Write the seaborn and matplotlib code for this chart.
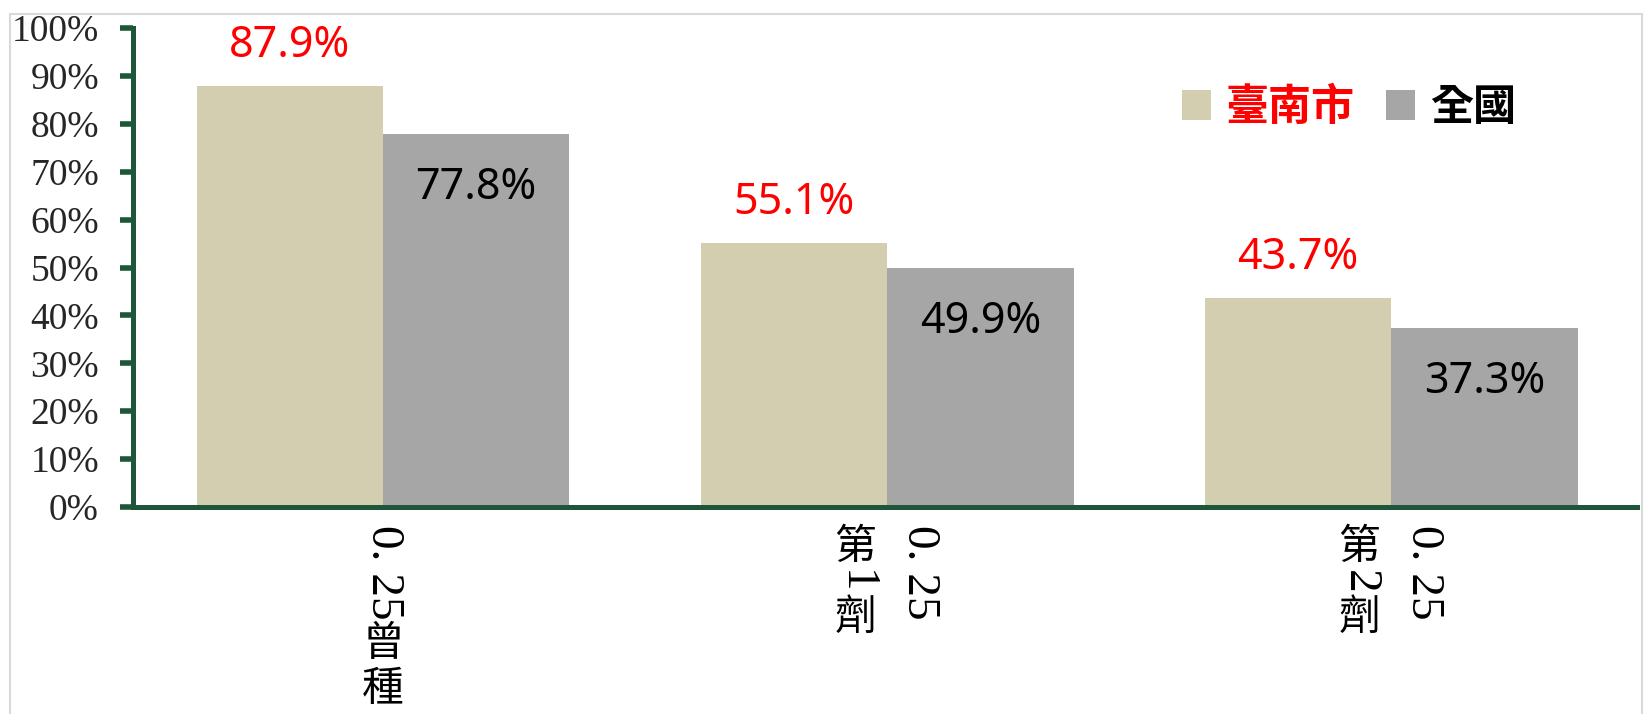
import matplotlib
matplotlib.use('Agg')
import matplotlib.pyplot as plt
import seaborn as sns
import pandas as pd
from matplotlib.patches import Rectangle

# chart data
groups = ['0.25曾種', '0.25第1劑', '0.25第2劑']
# vertical tick text, columns in reading order (right to left)
label_columns = [['0. 25曾種'], ['0. 25', '第1劑'], ['0. 25', '第2劑']]
regions = ['臺南市', '全國']
tainan = [87.9, 55.1, 43.7]
national = [77.8, 49.9, 37.3]
region_colors = ['#D3CEB0', '#A6A6A6']
text_colors = ['red', 'black']
y_ticks = list(range(0, 101, 10))

df = pd.DataFrame({
    'group': groups * 2,
    'region': [regions[0]] * len(groups) + [regions[1]] * len(groups),
    'value': tainan + national,
})

sns.set_theme(style='white')
plt.rcParams['font.family'] = ['Noto Sans', 'Noto Sans CJK TC', 'DejaVu Sans']

DPI = 100
W, H = 1648, 714
green = '#1D5638'

fig = plt.figure(figsize=(W / DPI, H / DPI), dpi=DPI)
ax = fig.add_axes([133 / W, 1 - 507 / H, (1637 - 133) / W, (507 - 28) / H])

sns.barplot(data=df, x='group', y='value', hue='region',
            palette=region_colors, width=0.74, gap=0, saturation=1,
            linewidth=0, ax=ax)

ax.set_xlim(-0.496, 2.488)
ax.set_ylim(0, 100)
ax.set_yticks(y_ticks)
ax.set_yticklabels([f'{t}%' for t in y_ticks],
                   fontfamily='Liberation Serif', fontsize=27)
ax.set_xlabel('')
ax.set_ylabel('')

# axes styling
sns.despine(ax=ax)
for s in ['left', 'bottom']:
    ax.spines[s].set_color(green)
    ax.spines[s].set_linewidth(3.6)
ax.tick_params(axis='y', left=True, direction='out', length=9.5, width=4,
               color=green, pad=15)
ax.tick_params(axis='x', bottom=False, labelbottom=False)

# value labels
for container, color, off in zip(ax.containers, text_colors, [40, -54]):
    for bar in container:
        h = bar.get_height()
        ax.annotate(f'{h:.1f}%', (bar.get_x() + bar.get_width() / 2, h),
                    xytext=(0, off), textcoords='offset pixels',
                    ha='center', va='center', color=color, fontsize=31)


# vertical category labels (latin runs rotated, CJK upright)
def char_runs(s):
    runs = []
    for ch in s:
        is_ascii = ord(ch) < 128
        if runs and runs[-1][1] and is_ascii:
            runs[-1][0] += ch
        else:
            runs.append([ch, is_ascii])
    return runs


renderer = fig.canvas.get_renderer()
em = 45
col_gap = 64
for i, cols in enumerate(label_columns):
    n = len(cols)
    for k, col in enumerate(cols):
        dx = ((n - 1) / 2 - k) * col_gap
        y = -18
        for run, is_ascii in char_runs(col):
            if is_ascii:
                t = ax.annotate(run, (i, 0), xycoords=('data', 'axes fraction'),
                                xytext=(dx, y), textcoords='offset pixels',
                                rotation=-90, ha='center', va='top',
                                color='black', fontfamily='Liberation Serif',
                                fontsize=34, annotation_clip=False)
                y -= t.get_window_extent(renderer).height + 2
            else:
                ax.annotate(run, (i, 0), xycoords=('data', 'axes fraction'),
                            xytext=(dx, y - em / 2),
                            textcoords='offset pixels',
                            ha='center', va='center', color='black',
                            fontfamily='Noto Sans CJK TC',
                            fontsize=30, annotation_clip=False)
                y -= em

# legend
handles, labels = ax.get_legend_handles_labels()
leg = ax.legend(handles, labels, ncol=2, frameon=False, loc='center left',
                bbox_to_anchor=(1182 / W, 1 - 107 / H),
                bbox_transform=fig.transFigure, borderpad=0, borderaxespad=0,
                handlelength=0.67, handleheight=0.67, handletextpad=0.35,
                columnspacing=0.73,
                prop={'family': 'Noto Sans CJK TC', 'weight': 'bold',
                      'size': 31})
for t, c in zip(leg.get_texts(), text_colors):
    t.set_color(c)

# chart-area border
fig.patches.append(Rectangle((10 / W, -0.05), (1642 - 10) / W, 1.04 - 7 / H,
                             transform=fig.transFigure, fill=False,
                             edgecolor='#D9D9D9', linewidth=1.5))

fig.savefig('out.png', dpi=DPI)
